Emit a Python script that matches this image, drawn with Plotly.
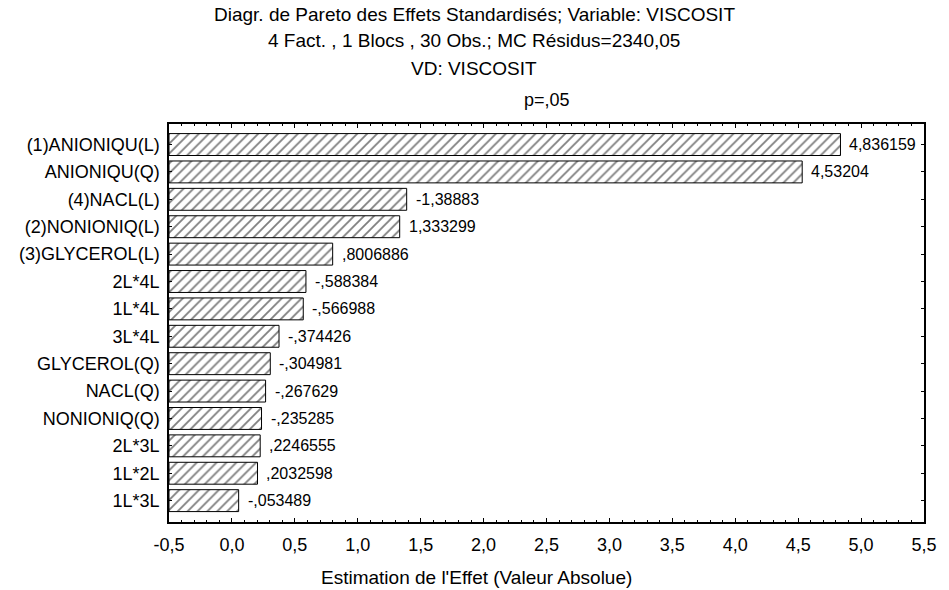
import plotly.graph_objects as go

# ---- data ----
effects = ["(1)ANIONIQU(L)", "ANIONIQU(Q)", "(4)NACL(L)", "(2)NONIONIQ(L)",
           "(3)GLYCEROL(L)", "2L*4L", "1L*4L", "3L*4L", "GLYCEROL(Q)",
           "NACL(Q)", "NONIONIQ(Q)", "2L*3L", "1L*2L", "1L*3L"]
values = [4.836159, 4.53204, -1.38883, 1.333299, 0.8006886, -0.588384,
          -0.566988, -0.374426, -0.304981, -0.267629, -0.235285,
          0.2246555, 0.2032598, -0.053489]
x_ticks = [-0.5, 0.0, 0.5, 1.0, 1.5, 2.0, 2.5, 3.0, 3.5, 4.0, 4.5, 5.0, 5.5]
x_tick_labels = ["-0,5", "0,0", "0,5", "1,0", "1,5", "2,0", "2,5", "3,0",
                 "3,5", "4,0", "4,5", "5,0", "5,5"]

title_lines = ["Diagr. de Pareto des Effets Standardisés; Variable: VISCOSIT",
               "4 Fact. , 1 Blocs , 30 Obs.; MC Résidus=2340,05",
               "VD: VISCOSIT"]
sub_title = "p=,05"
x_title = "Estimation de l'Effet (Valeur Absolue)"

AXIS_MIN = x_ticks[0]
AXIS_MAX = x_ticks[-1]

def fmt(v):
    s = repr(v)
    if s.startswith("-0."):
        s = "-" + s[2:]
    elif s.startswith("0."):
        s = s[1:]
    return s.replace(".", ",")

absvals = [abs(v) for v in values]
FONT = "Liberation Sans, Arial, sans-serif"

W, H = 949, 590
ML, MR, MT, MB = 169, 19, 124, 68
PW, PH = W - ML - MR, H - MT - MB
FIG_CX = (W / 2 - ML) / PW   # figure centre in paper coords

fig = go.Figure()
fig.add_trace(go.Bar(
    y=effects,
    x=[a - AXIS_MIN for a in absvals],
    base=[AXIS_MIN] * len(values),
    orientation="h",
    width=0.8,
    marker=dict(color="white",
                line=dict(color="black", width=1),
                pattern=dict(shape="/", fgcolor="black", bgcolor="white",
                             size=7, solidity=0.26, fillmode="overlay")),
    hoverinfo="skip",
    showlegend=False,
))

for name, a, v in zip(effects, absvals, values):
    fig.add_annotation(x=a, y=name, xref="x", yref="y", text=fmt(v),
                       showarrow=False, xanchor="left", xshift=7,
                       font=dict(family=FONT, size=16, color="black"))

for i, line in enumerate(title_lines):
    ypix = 14 + 27 * i
    fig.add_annotation(x=FIG_CX + 2 / PW, y=1 + (MT - ypix) / PH, xref="paper", yref="paper",
                       text=line, showarrow=False, xanchor="center", yanchor="middle",
                       font=dict(family=FONT, size=19, color="black"))
fig.add_annotation(x=0.5, y=1 + (MT - 100) / PH, xref="paper", yref="paper",
                   text=sub_title, showarrow=False, xanchor="center", yanchor="middle",
                   font=dict(family=FONT, size=18, color="black"))
fig.add_annotation(x=FIG_CX + 4 / PW, y=-(577 - (MT + PH)) / PH, xref="paper", yref="paper",
                   text=x_title, showarrow=False, xanchor="center", yanchor="middle",
                   font=dict(family=FONT, size=19, color="black"))

fig.update_layout(
    width=W, height=H,
    margin=dict(l=ML, r=MR, t=MT, b=MB),
    paper_bgcolor="white", plot_bgcolor="white",
    font=dict(family=FONT, size=18, color="black"),
)
fig.update_xaxes(
    range=[AXIS_MIN, AXIS_MAX], tickvals=x_ticks, ticktext=x_tick_labels,
    showgrid=False, zeroline=False,
    showline=True, linecolor="black", linewidth=1.5, mirror="ticks",
    ticks="inside", ticklen=4, tickcolor="black",
    minor=dict(dtick=0.1, ticks="inside", ticklen=2, tickcolor="black"),
    tickfont=dict(family=FONT, size=18),
    ticklabelstandoff=6,
)
fig.update_yaxes(
    categoryorder="array", categoryarray=effects,
    range=[len(effects) - 1 + 0.78, -0.75],
    showgrid=False, zeroline=False,
    showline=True, linecolor="black", linewidth=1.5, mirror="ticks",
    ticks="inside", ticklen=3, tickcolor="black",
    tickfont=dict(family=FONT, size=18),
    ticklabelstandoff=4,
)

fig.write_html("out.html")
